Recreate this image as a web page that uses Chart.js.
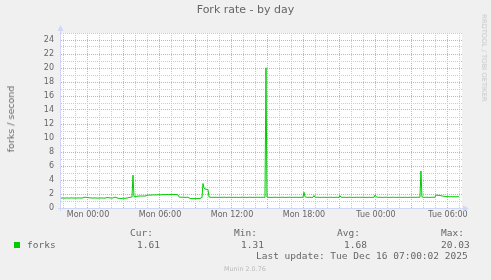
<!DOCTYPE html>
<html>
<head>
<meta charset="utf-8">
<title>Fork rate - by day</title>
<script src="https://cdn.jsdelivr.net/npm/chart.js@4.4.1/dist/chart.umd.min.js"></script>
<style>
  html, body { margin: 0; padding: 0; background: #f0f0f0; }
  #wrap { position: relative; width: 491px; height: 280px; overflow: hidden; font-family: 'DejaVu Sans', sans-serif; color: #666; }
  #chart { position: absolute; left: 0; top: 0; }
  .t { position: absolute; white-space: nowrap; line-height: 12px; }
  .mono { font-family: 'DejaVu Sans Mono', monospace; font-size: 9.5px; }
  .rot { transform: translate(-50%, -50%) rotate(-90deg); }
  .rot90 { transform: translate(-50%, -50%) rotate(90deg); }
</style>
</head>
<body>
<div id="wrap">
  <canvas id="chart" width="491" height="280"></canvas>
  <div class="t" style="left:0; width:491px; top:4px; text-align:center; font-size:11px;">Fork rate - by day</div>
  <div class="t rot" style="left:11px; top:119px; font-size:9.5px;">forks / second</div>
  <div class="t rot90" style="left:484px; top:58px; font-size:6.8px; color:#c8c8c8;">RRDTOOL / TOBI OETIKER</div>

  <div class="t mono" style="left:130px; top:227px;">Cur:</div>
  <div class="t mono" style="left:234px; top:227px;">Min:</div>
  <div class="t mono" style="left:337px; top:227px;">Avg:</div>
  <div class="t mono" style="left:441px; top:227px;">Max:</div>

  <div style="position:absolute; left:14px; top:242px; width:6px; height:6px; background:#00cc00;"></div>
  <div class="t mono" style="left:27px; top:239px;">forks</div>
  <div class="t mono" style="left:137px; top:239px;">1.61</div>
  <div class="t mono" style="left:241px; top:239px;">1.31</div>
  <div class="t mono" style="left:344px; top:239px;">1.68</div>
  <div class="t mono" style="left:441px; top:239px;">20.03</div>

  <div class="t mono" style="left:256px; top:250px;">Last update: Tue Dec 16 07:00:02 2025</div>
  <div class="t" style="left:224px; top:263px; font-size:6.4px; color:#bbb;">Munin 2.0.76</div>
</div>
<script>
// 5 minute samples, first one at Sun 21:45 (hours relative to Mon 00:00)
const startHour = -2.25;
const stepHours = 5 / 60;

const forks = [
  1.42, 1.42, 1.43, 1.41, 1.42, 1.44, 1.43, 1.42, 1.41, 1.43, 1.45, 1.44, 1.42, 1.43, 1.42, 1.41, 1.43, 1.44, 1.42, 1.43,
  1.42, 1.43, 1.45, 1.52, 1.55, 1.53, 1.50, 1.48, 1.47, 1.45, 1.44, 1.43, 1.42, 1.43, 1.44, 1.43, 1.42, 1.41, 1.42, 1.43,
  1.44, 1.43, 1.42, 1.41, 1.42, 1.45, 1.50, 1.48, 1.46, 1.44, 1.43, 1.42, 1.43, 1.52, 1.55, 1.50, 1.46, 1.40, 1.38, 1.37,
  1.36, 1.38, 1.40, 1.39, 1.38, 1.40, 1.42, 1.45, 1.50, 1.52, 1.55, 1.58, 4.70, 1.62, 1.62, 1.64, 1.68, 1.70, 1.70, 1.72,
  1.70, 1.72, 1.71, 1.70, 1.72, 1.74, 1.80, 1.84, 1.86, 1.85, 1.84, 1.86, 1.88, 1.87, 1.85, 1.86, 1.88, 1.90, 1.89, 1.87,
  1.88, 1.90, 1.92, 1.91, 1.90, 1.92, 1.93, 1.92, 1.90, 1.91, 1.93, 1.94, 1.92, 1.91, 1.93, 1.92, 1.90, 1.88, 1.60, 1.55,
  1.54, 1.53, 1.55, 1.54, 1.52, 1.53, 1.54, 1.52, 1.45, 1.38, 1.35, 1.34, 1.33, 1.35, 1.34, 1.33, 1.34, 1.36, 1.35, 1.34,
  1.46, 1.48, 3.50, 2.90, 2.70, 2.68, 2.66, 2.65, 1.60, 1.55, 1.52, 1.53, 1.54, 1.52, 1.53, 1.54, 1.52, 1.51, 1.53, 1.54,
  1.52, 1.53, 1.52, 1.54, 1.53, 1.52, 1.51, 1.53, 1.54, 1.52, 1.53, 1.52, 1.51, 1.53, 1.52, 1.54, 1.53, 1.52, 1.51, 1.53,
  1.52, 1.53, 1.54, 1.52, 1.53, 1.52, 1.51, 1.53, 1.52, 1.54, 1.53, 1.52, 1.51, 1.53, 1.52, 1.53, 1.54, 1.52, 1.53, 1.52,
  1.53, 1.52, 1.54, 1.53, 1.52, 20.03, 1.55, 1.53, 1.52, 1.53, 1.52, 1.51, 1.53, 1.52, 1.54, 1.53, 1.52, 1.51, 1.53, 1.52,
  1.53, 1.52, 1.54, 1.53, 1.52, 1.51, 1.53, 1.52, 1.54, 1.53, 1.52, 1.51, 1.53, 1.52, 1.53, 1.54, 1.52, 1.53, 1.52, 1.53,
  1.52, 1.54, 1.53, 2.25, 1.62, 1.55, 1.53, 1.52, 1.54, 1.53, 1.52, 1.51, 1.53, 1.78, 1.56, 1.53, 1.52, 1.54, 1.53, 1.52,
  1.51, 1.53, 1.52, 1.54, 1.53, 1.52, 1.51, 1.53, 1.52, 1.54, 1.53, 1.52, 1.51, 1.53, 1.52, 1.53, 1.54, 1.52, 1.53, 1.75,
  1.56, 1.53, 1.52, 1.54, 1.53, 1.52, 1.51, 1.53, 1.52, 1.54, 1.53, 1.52, 1.51, 1.53, 1.52, 1.53, 1.54, 1.52, 1.53, 1.52,
  1.53, 1.52, 1.54, 1.53, 1.52, 1.51, 1.53, 1.52, 1.54, 1.53, 1.52, 1.51, 1.53, 1.52, 1.85, 1.62, 1.55, 1.53, 1.52, 1.54,
  1.53, 1.52, 1.51, 1.53, 1.52, 1.54, 1.53, 1.52, 1.51, 1.53, 1.52, 1.53, 1.54, 1.52, 1.53, 1.52, 1.53, 1.52, 1.54, 1.53,
  1.52, 1.51, 1.53, 1.52, 1.54, 1.53, 1.52, 1.51, 1.53, 1.52, 1.53, 1.54, 1.52, 1.53, 1.52, 1.53, 1.52, 1.54, 1.53, 1.55,
  5.28, 1.60, 1.54, 1.53, 1.52, 1.54, 1.53, 1.52, 1.51, 1.53, 1.52, 1.53, 1.54, 1.52, 1.53, 1.85, 1.84, 1.80, 1.78, 1.80,
  1.75, 1.72, 1.70, 1.68, 1.66, 1.65, 1.62, 1.63, 1.62, 1.60, 1.61, 1.62, 1.60, 1.61, 1.62, 1.60, 1.61, 1.62, 1.61
];

const xTickHours = [0, 6, 12, 18, 24, 30];
const xTickLabels = ['Mon 00:00', 'Mon 06:00', 'Mon 12:00', 'Mon 18:00', 'Tue 00:00', 'Tue 06:00'];
const yTickValues = [0, 2, 4, 6, 8, 10, 12, 14, 16, 18, 20, 22, 24];

const axisColor = '#cfd6f8';
const minorGrid = '#cccccc';
const majorGrid = '#f2a2a2';
const font = { family: 'DejaVu Sans', size: 8 };

// white canvas behind the plot, like rrdtool's CANVAS colour
const canvasBg = {
    id: 'canvasBg',
    beforeDraw(chart) {
        const { ctx, chartArea: a } = chart;
        ctx.save();
        ctx.fillStyle = '#ffffff';
        ctx.fillRect(a.left, a.top, a.right - a.left, a.bottom - a.top);
        ctx.restore();
    },
};

const axisArrows = {
    id: 'axisArrows',
    afterDraw(chart) {
        const { ctx, chartArea: a } = chart;
        const x0 = Math.round(a.left) - 0.5;
        const y0 = Math.round(a.bottom) + 0.5;
        ctx.save();
        ctx.strokeStyle = axisColor;
        ctx.fillStyle = axisColor;
        ctx.lineWidth = 1;
        ctx.beginPath();
        ctx.moveTo(x0, a.bottom + 3);
        ctx.lineTo(x0, a.top - 3);
        ctx.moveTo(a.left - 3, y0);
        ctx.lineTo(a.right + 2, y0);
        ctx.stroke();
        ctx.beginPath();
        ctx.moveTo(x0 - 3, a.top - 2);
        ctx.lineTo(x0 + 3, a.top - 2);
        ctx.lineTo(x0, a.top - 8);
        ctx.closePath();
        ctx.fill();
        ctx.beginPath();
        ctx.moveTo(a.right + 1, y0 - 3);
        ctx.lineTo(a.right + 1, y0 + 3);
        ctx.lineTo(a.right + 7, y0);
        ctx.closePath();
        ctx.fill();
        ctx.restore();
    },
};

new Chart(document.getElementById('chart'), {
    type: 'line',
    data: {
        datasets: [{
            label: 'forks',
            data: forks.map((v, i) => ({ x: startHour + i * stepHours, y: v })),
            borderColor: '#00cc00',
            borderWidth: 1,
            pointRadius: 0,
            tension: 0,
        }],
    },
    options: {
        responsive: false,
        animation: false,
        devicePixelRatio: 1,
        layout: { padding: { left: 0, top: 33, right: 29, bottom: 58 } },
        plugins: {
            legend: { display: false },
            tooltip: { enabled: false },
        },
        scales: {
            x: {
                type: 'linear',
                min: -2.25,
                max: 31.17,
                afterBuildTicks: (scale) => {
                    const ticks = [];
                    for (let h = -2; h <= 31; h++) ticks.push({ value: h });
                    scale.ticks = ticks;
                },
                afterFit: (scale) => { scale.height = 14; },
                grid: {
                    drawTicks: false,
                    lineWidth: 1,
                    color: (ctx) => (ctx.tick && ctx.tick.value % 3 === 0 ? majorGrid : minorGrid),
                },
                border: { display: false, dash: [1, 1] },
                ticks: {
                    autoSkip: false,
                    maxRotation: 0,
                    padding: 2,
                    color: '#666',
                    font,
                    callback: (v) => {
                        const k = xTickHours.indexOf(v);
                        return k >= 0 ? xTickLabels[k] : '';
                    },
                },
            },
            y: {
                min: 0,
                max: 25,
                afterBuildTicks: (scale) => {
                    const ticks = [];
                    for (let v = 0; v <= 25; v++) ticks.push({ value: v });
                    scale.ticks = ticks;
                },
                afterFit: (scale) => { scale.width = 61; },
                grid: {
                    drawTicks: false,
                    lineWidth: 1,
                    color: (ctx) => (ctx.tick && ctx.tick.value % 2 === 0 ? majorGrid : minorGrid),
                },
                border: { display: false, dash: [1, 1] },
                ticks: {
                    autoSkip: false,
                    padding: 7,
                    color: '#666',
                    font,
                    callback: (v) => (yTickValues.includes(v) ? String(v) : ''),
                },
            },
        },
    },
    plugins: [canvasBg, axisArrows],
});
</script>
</body>
</html>
